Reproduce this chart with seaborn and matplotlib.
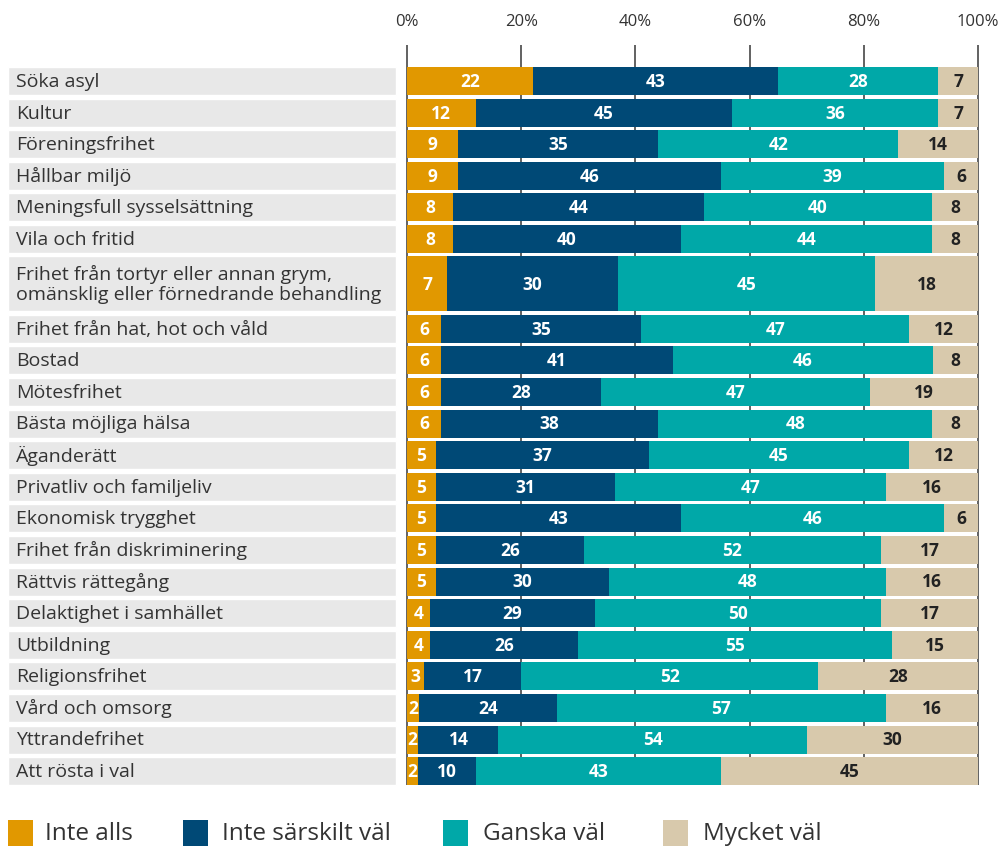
import numpy as np
import pandas as pd
import matplotlib
matplotlib.use("Agg")
import matplotlib.pyplot as plt
import seaborn as sns
from matplotlib.patches import Rectangle

# --- data ---
categories = [
    "Söka asyl",
    "Kultur",
    "Föreningsfrihet",
    "Hållbar miljö",
    "Meningsfull sysselsättning",
    "Vila och fritid",
    "Frihet från tortyr eller annan grym,\nomänsklig eller förnedrande behandling",
    "Frihet från hat, hot och våld",
    "Bostad",
    "Mötesfrihet",
    "Bästa möjliga hälsa",
    "Äganderätt",
    "Privatliv och familjeliv",
    "Ekonomisk trygghet",
    "Frihet från diskriminering",
    "Rättvis rättegång",
    "Delaktighet i samhället",
    "Utbildning",
    "Religionsfrihet",
    "Vård och omsorg",
    "Yttrandefrihet",
    "Att rösta i val",
]
inte_alls = [22, 12, 9, 9, 8, 8, 7, 6, 6, 6, 6, 5, 5, 5, 5, 5, 4, 4, 3, 2, 2, 2]
inte_sarskilt = [43, 45, 35, 46, 44, 40, 30, 35, 41, 28, 38, 37, 31, 43, 26, 30, 29, 26, 17, 24, 14, 10]
ganska = [28, 36, 42, 39, 40, 44, 45, 47, 46, 47, 48, 45, 47, 46, 52, 48, 50, 55, 52, 57, 54, 43]
mycket = [7, 7, 14, 6, 8, 8, 18, 12, 8, 19, 8, 12, 16, 6, 17, 16, 17, 15, 28, 16, 30, 45]
series_names = ["Inte alls", "Inte särskilt väl", "Ganska väl", "Mycket väl"]
tick_values = [0, 20, 40, 60, 80, 100]

colors = ["#E19800", "#004976", "#00A8A8", "#D8C9AC"]
palette = dict(zip(series_names, colors))
TALL = 6  # the two-line row

# --- row layout (pitch 1, tall row takes more room) ---
row_pos = []
y = 0.0
for i in range(len(categories)):
    if i == TALL:
        y += 0.42
        row_pos.append(y)
        y += 1.42
    else:
        row_pos.append(y)
        y += 1.0
row_h = [1.74 if i == TALL else 0.885 for i in range(len(categories))]

# 100 % stacked: cumulative shares
vals = np.array([inte_alls, inte_sarskilt, ganska, mycket], dtype=float).T
shares = vals / vals.sum(axis=1, keepdims=True) * 100
cum = np.cumsum(shares, axis=1)

rows = []
for i, cat in enumerate(categories):
    for j, s in enumerate(series_names):
        rows.append({"Kategori": cat, "pos": row_pos[i], "serie": s,
                     "cum": cum[i, j], "start": cum[i, j] - shares[i, j],
                     "value": int(vals[i, j]), "tall": i == TALL})
df = pd.DataFrame(rows)

sns.set_theme(style="white")
plt.rcParams["font.family"] = ["Open Sans", "DejaVu Sans"]
TXT = "#333333"

fig = plt.figure(figsize=(10.02, 8.46), dpi=100)
ax = fig.add_axes([0, 0, 1, 1])

# pixel mapping: 0 % at x=407px, 100 % at x=978px; row 0 centre at y=81px, pitch 31.6px
PX = 5.71
PY = 31.6
ax.set_xlim(-407 / PX, (1002 - 407) / PX)

# tick lines behind the bars
ax.vlines(tick_values, (45 - 81) / PY, (785 - 81) / PY, color="#555555", lw=1.3, zorder=0)
for t in tick_values:
    ax.text(t, (22 - 81) / PY, f"{t}%", ha="center", va="center", fontsize=12, color=TXT)

# grey label boxes
ax.barh(row_pos, width=388 / PX, left=(8 - 407) / PX, height=row_h,
        color="#E8E8E8", zorder=1)
for i, cat in enumerate(categories):
    ax.text((16 - 407) / PX, row_pos[i] + 0.03, cat, ha="left", va="center",
            fontsize=14, color=TXT, linespacing=1.15, zorder=3)

hue_order = series_names[::-1]
for tall, h in [(False, 0.885), (True, 1.74)]:
    sub = df[df["tall"] == tall]
    sns.barplot(data=sub, x="cum", y="pos", hue="serie", hue_order=hue_order,
                palette=palette, orient="y", native_scale=True, dodge=False,
                width=h, saturation=1, linewidth=0, errorbar=None,
                legend=False, ax=ax, zorder=2)

# value labels
for _, r in df.iterrows():
    xc = (r["start"] + r["cum"]) / 2
    col = "#222222" if r["serie"] == "Mycket väl" else "white"
    ax.text(xc, r["pos"] + 0.03, str(r["value"]), ha="center", va="center",
            fontsize=12.5, fontweight="bold", color=col, zorder=4)

ax.set_ylim((846 - 81) / PY, -81 / PY)
ax.axis("off")

# legend at the bottom
leg_x = [(8, 45), (183, 222), (443, 483), (663, 703)]
for (sx, tx), name, c in zip(leg_x, series_names, colors):
    fig.add_artist(Rectangle((sx / 1002, 0), 25 / 1002, 26 / 846,
                             transform=fig.transFigure, color=c, lw=0))
    fig.text(tx / 1002, (846 - 834) / 846, name, ha="left", va="center",
             fontsize=17.5, color=TXT)

fig.savefig("out.png", dpi=100)
